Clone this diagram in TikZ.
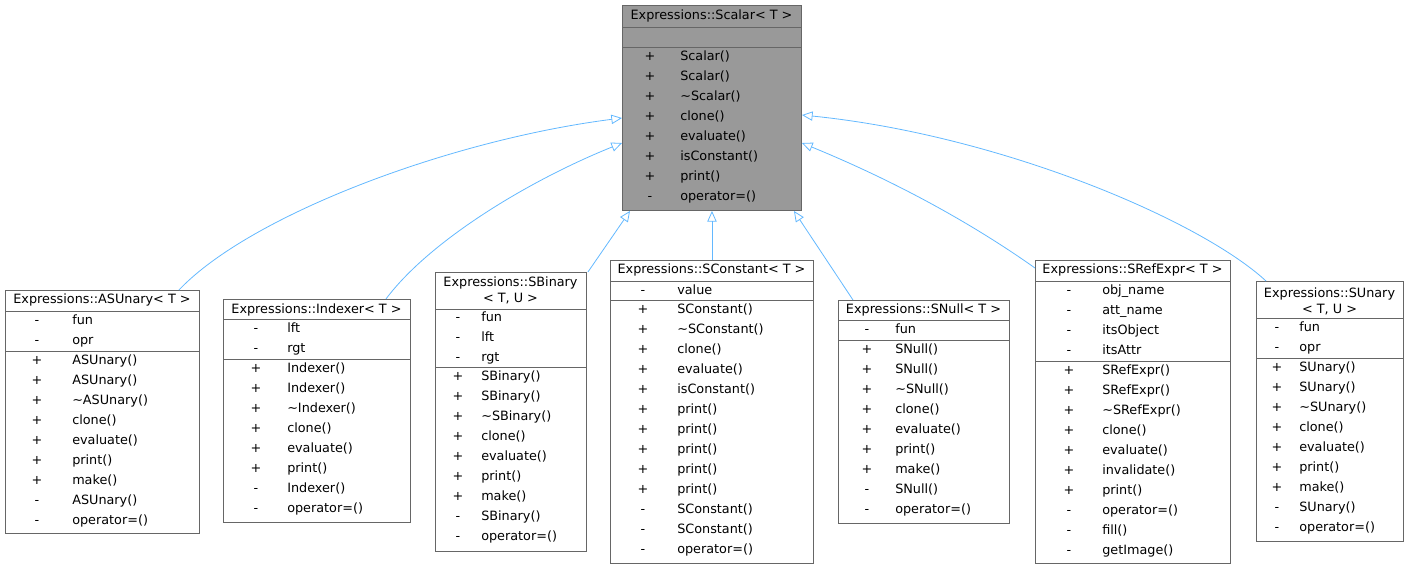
\documentclass[tikz,border=0pt]{standalone}
\usepackage{fontspec}
\setmainfont{DejaVu Sans}
\usetikzlibrary{arrows.meta,calc}
\definecolor{edgeblue}{HTML}{63B8FF}
\definecolor{boxborder}{HTML}{666666}
\definecolor{boxgray}{HTML}{999999}
\tikzset{
  umlbox/.style={draw=boxborder,fill=white,line width=0.7pt,anchor=north west,inner sep=0,minimum width=#1},
  sep/.style={draw=boxborder,line width=0.7pt},
  txt/.style={inner sep=0,font=\fontsize{9.6pt}{11pt}\selectfont,text height=7.5pt,text depth=2pt},
  inh/.style={draw=edgeblue,line width=0.6pt,-{Triangle[open,length=8pt,width=7pt]}}
}
\newcommand\rows[4]{\foreach \s/\t [count=\i from 0] in {#4} {\node[txt] at (#1,#3+20*\i) {\s}; \node[txt,anchor=west] at (#2,#3+20*\i) {\t};}}
\newcommand\tl{\textasciitilde}
\begin{document}
\begin{tikzpicture}[x={(0.75pt,0)},y={(0,-0.75pt)}]
\useasboundingbox (0,0) rectangle (1408,569);
% Scalar
\node[umlbox=134.25pt,fill=boxgray,minimum height=153.75pt] (sc) at (622,5) {};
\node[txt] (sct) at (711.5,16) {Expressions::Scalar< T >};
\draw[sep] (622,27) -- (801,27); \draw[sep] (622,47) -- (801,47);
\rows{650}{680}{57}{+/Scalar(),+/Scalar(),+/\tl Scalar(),+/clone(),+/evaluate(),+/isConstant(),+/print(),-/operator=()}
% ASUnary
\node[umlbox=145.5pt,minimum height=182.25pt] (asu) at (5,290) {};
\node[txt] at (102,300) {Expressions::ASUnary< T >};
\draw[sep] (5,311) -- (199,311); \draw[sep] (5,351) -- (199,351);
\rows{37}{72}{321}{-/fun,-/opr}
\rows{37}{72}{361}{+/ASUnary(),+/ASUnary(),+/\tl ASUnary(),+/clone(),+/evaluate(),+/print(),+/make(),-/ASUnary(),-/operator=()}
% Indexer
\node[umlbox=140.25pt,minimum height=167.25pt] (idx) at (223,299) {};
\node[txt] at (316.5,310) {Expressions::Indexer< T >};
\draw[sep] (223,319) -- (410,319); \draw[sep] (223,359) -- (410,359);
\rows{256}{287}{329}{-/lft,-/rgt}
\rows{256}{287}{369}{+/Indexer(),+/Indexer(),+/\tl Indexer(),+/clone(),+/evaluate(),+/print(),-/Indexer(),-/operator=()}
% SBinary
\node[umlbox=113.25pt,minimum height=209.25pt] (sbi) at (435,272) {};
\node[txt] at (510.5,283) {Expressions::SBinary};
\node[txt] at (510.5,299) {< T, U >};
\draw[sep] (435,309) -- (586,309); \draw[sep] (435,367) -- (586,367);
\rows{458}{481}{318}{-/fun,-/lft,-/rgt}
\rows{458}{481}{377}{+/SBinary(),+/SBinary(),+/\tl SBinary(),+/clone(),+/evaluate(),+/print(),+/make(),-/SBinary(),-/operator=()}
% SConstant
\node[umlbox=152.25pt,minimum height=227.25pt] (sco) at (610,260) {};
\node[txt] at (711.5,270) {Expressions::SConstant< T >};
\draw[sep] (610,281) -- (813,281); \draw[sep] (610,300) -- (813,300);
\rows{643}{677}{290.5}{-/value}
\rows{643}{677}{310}{+/SConstant(),+/\tl SConstant(),+/clone(),+/evaluate(),+/isConstant(),+/print(),+/print(),+/print(),+/print(),+/print(),-/SConstant(),-/SConstant(),-/operator=()}
% SNull
\node[umlbox=128.25pt,minimum height=167.25pt] (snu) at (838,300) {};
\node[txt] at (923.5,310) {Expressions::SNull< T >};
\draw[sep] (838,320) -- (1009,320); \draw[sep] (838,340) -- (1009,340);
\rows{867}{895}{330}{-/fun}
\rows{867}{895}{350}{+/SNull(),+/SNull(),+/\tl SNull(),+/clone(),+/evaluate(),+/print(),+/make(),-/SNull(),-/operator=()}
% SRefExpr
\node[umlbox=146.25pt,minimum height=227.25pt] (sre) at (1035,260) {};
\node[txt] at (1132.5,270) {Expressions::SRefExpr< T >};
\draw[sep] (1035,281) -- (1230,281); \draw[sep] (1035,361) -- (1230,361);
\rows{1069}{1102}{291}{-/obj\_name,-/att\_name,-/itsObject,-/itsAttr}
\rows{1069}{1102}{371}{+/SRefExpr(),+/SRefExpr(),+/\tl SRefExpr(),+/clone(),+/evaluate(),+/invalidate(),+/print(),-/operator=(),-/fill(),-/getImage()}
% SUnary
\node[umlbox=110.25pt,minimum height=195pt] (sun) at (1256,281) {};
\node[txt] at (1329.5,294) {Expressions::SUnary};
\node[txt] at (1329.5,310) {< T, U >};
\draw[sep] (1256,318) -- (1403,318); \draw[sep] (1256,358) -- (1403,358);
\rows{1277}{1299}{328}{-/fun,-/opr}
\rows{1277}{1299}{368}{+/SUnary(),+/SUnary(),+/\tl SUnary(),+/clone(),+/evaluate(),+/print(),+/make(),-/SUnary(),-/operator=()}
% edges
\draw[inh] ($(asu.north east)+(-21,0)$) .. controls (250,215) and (450,140) .. ($(sc.north west)+(0,113)$);
\draw[inh] ($(idx.north east)+(-25,0)$) .. controls (430,240) and (530,180) .. ($(sc.north west)+(0,138)$);
\draw[inh] ($(sbi.north east)+(1,0)$) -- ($(sc.south west)+(8,0)$);
\draw[inh] (sco.north) -- (sc.south);
\draw[inh] ($(snu.north west)+(15,0)$) -- ($(sc.south east)+(-8,0)$);
\draw[inh] ($(sre.north west)+(0,8)$) .. controls (960,215) and (880,175) .. ($(sc.north east)+(0,138)$);
\draw[inh] ($(sun.north west)+(10,0)$) .. controls (1200,220) and (1000,135) .. ($(sc.north east)+(0,110)$);
\end{tikzpicture}
\end{document}
